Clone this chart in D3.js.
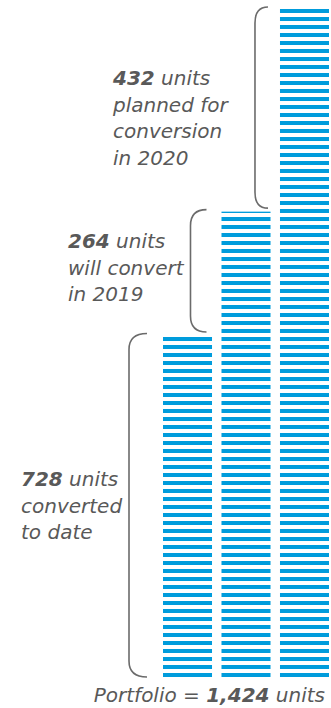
<!DOCTYPE html>
<html><head><meta charset="utf-8">
<script src="https://cdn.jsdelivr.net/npm/d3@7"></script>
<style>
html,body{margin:0;padding:0;background:#fff;}
svg{display:block;}
text{font-family:"DejaVu Sans",sans-serif;font-style:italic;fill:#595959;}
</style></head>
<body>
<script>
// ---- data ----
const categories = ["Converted to date", "Will convert in 2019", "Planned for conversion in 2020"];
const values = [728, 264, 432];
const labelNumbers = ["728", "264", "432"];
const labelLines = [
  ["units", "converted", "to date"],
  ["units", "will convert", "in 2019"],
  ["units", "planned for", "conversion", "in 2020"]
];
const totalLabel = "1,424";

// ---- layout ----
const W = 331, H = 708;
const blue = "#009cdc";
const labelPos = [{x: 21, y: 486}, {x: 68, y: 248}, {x: 113, y: 85}];
const bracketOffsets = [{end: 16, vert: 34}, {end: 15, vert: 31}, {end: 12, vert: 25}];
const lineH = 26.5;
const fontSize = "20px";

const total = d3.sum(values);
const cum = d3.cumsum(values);

const svg = d3.select("body").append("svg").attr("width", W).attr("height", H);

const x = d3.scaleBand().domain(d3.range(values.length)).range([163, 329]).paddingInner(0.162);
const y = d3.scaleLinear().domain([0, total]).range([677, 9]);

// stripe pattern
const defs = svg.append("defs");
const pat = defs.append("pattern").attr("id", "stripes")
  .attr("patternUnits", "userSpaceOnUse")
  .attr("x", 0).attr("y", 5).attr("width", W).attr("height", 8);
pat.append("rect").attr("x", 0).attr("y", 4).attr("width", W).attr("height", 4).attr("fill", blue);

// columns
svg.selectAll("rect.col").data(cum).enter().append("rect")
  .attr("class", "col")
  .attr("x", (d, i) => x(i))
  .attr("width", x.bandwidth())
  .attr("y", d => y(d))
  .attr("height", d => y(0) - y(d))
  .attr("fill", "url(#stripes)");

// brackets
const r = 16;
cum.forEach((c, i) => {
  const lo = i === 0 ? 0 : cum[i - 1];
  const top = y(c) - 2, bot = y(lo) - (i === 0 ? 0 : 3.5);
  const xe = x(i) - bracketOffsets[i].end, xv = x(i) - bracketOffsets[i].vert;
  const p = d3.path();
  p.moveTo(xe, top);
  p.quadraticCurveTo(xv, top, xv, top + r);
  p.lineTo(xv, bot - r);
  p.quadraticCurveTo(xv, bot, xe, bot);
  svg.append("path").attr("d", p.toString())
    .attr("fill", "none").attr("stroke", "#6b6b6b").attr("stroke-width", 1.6);
});

// labels
labelLines.forEach((lines, i) => {
  const t = svg.append("text").attr("x", labelPos[i].x).attr("y", labelPos[i].y)
    .style("font-size", fontSize);
  lines.forEach((ln, j) => {
    if (j === 0) {
      t.append("tspan").attr("x", labelPos[i].x).attr("y", labelPos[i].y)
        .style("font-weight", "bold").text(labelNumbers[i]);
      t.append("tspan").text(" " + ln);
    } else {
      t.append("tspan").attr("x", labelPos[i].x).attr("y", labelPos[i].y + j * lineH).text(ln);
    }
  });
});

// footer
const f = svg.append("text").attr("x", 325).attr("y", 702).attr("text-anchor", "end")
  .style("font-size", fontSize);
f.append("tspan").text("Portfolio = ");
f.append("tspan").style("font-weight", "bold").text(totalLabel);
f.append("tspan").text(" units");
</script>
</body></html>
